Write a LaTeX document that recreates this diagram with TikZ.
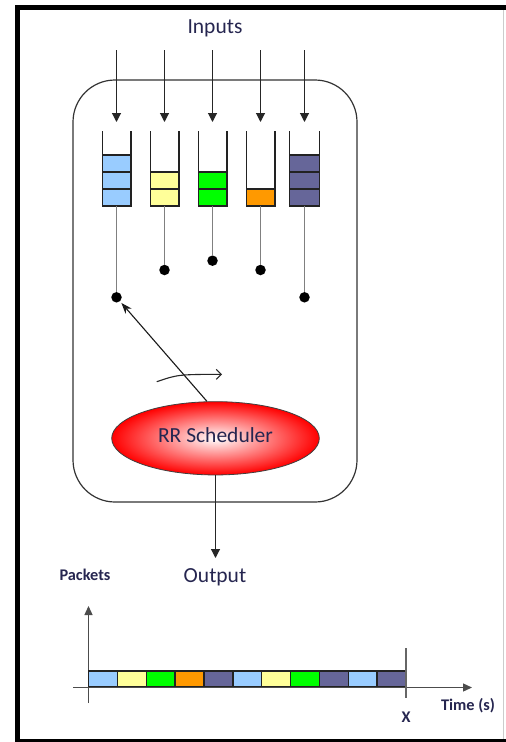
\documentclass[tikz,border=0pt]{standalone}
\usepackage{fontspec}
\setmainfont{Carlito}
\usetikzlibrary{arrows.meta,shapes.geometric}
\definecolor{qblue}{HTML}{99CCFF}
\definecolor{qyellow}{HTML}{FFFF99}
\definecolor{qgreen}{HTML}{00FF00}
\definecolor{qorange}{HTML}{FF9900}
\definecolor{qpurple}{HTML}{666699}
\definecolor{txt}{HTML}{262650}
\definecolor{qline}{HTML}{222222}
\definecolor{stem}{HTML}{808080}
\newcommand{\qbox}[5]{%
  \foreach \k in {1,...,#4} {
    \filldraw[fill=#5, draw=qline, line width=1.4pt]
      ({#2-#3}, {205.7-16.9*\k}) rectangle ({#2+#3}, {205.7-16.9*(\k-1)});
  }
  \draw[qline, line width=1.6pt] ({#2-#3},131) -- ({#2-#3},205.7) -- ({#2+#3},205.7) -- ({#2+#3},131);
  \coordinate (#1) at (#2,205.7);
}
\begin{document}
\begin{tikzpicture}[x=1pt,y=-1pt,
  bigtxt/.style={text=txt, font=\fontsize{21.5}{24}\selectfont, inner sep=0pt},
  smalltxt/.style={text=txt, font=\bfseries\fontsize{16.3}{18}\selectfont, inner sep=0pt},
  inarrow/.style={draw=black!85, line width=1.1pt, -{Triangle[length=9pt,width=9pt]}},
  stemline/.style={draw=stem, line width=1.8pt},
  dot/.style={circle, fill=black, inner sep=0pt, minimum size=10.5pt},
  ptr/.style={draw=black!90, line width=1.1pt, -{Stealth[length=11pt,width=8pt]}, shorten >=2pt},
  rot/.style={draw=black!85, line width=1.1pt, -{Straight Barb[length=5pt,width=10pt]}},
  axis/.style={draw=black!70, line width=1.3pt, -{Triangle[length=9pt,width=8pt]}},
  cell/.style={draw=qline, line width=1.4pt}
]
\useasboundingbox (0,0) rectangle (506,742);
\fill[white] (0,0) rectangle (506,742);
% frame
\draw[line width=5pt] (17.5,742) -- (17.5,7.5) -- (506,7.5);
\draw[black!20, line width=1pt] (503.5,10) -- (503.5,739);
\draw[line width=2.5pt] (17.5,740.5) -- (506,740.5);

% main box
\node[draw=black!80, line width=1.2pt, rounded corners=42pt, minimum width=284pt, minimum height=422pt, inner sep=0pt] (box) at (215,291) {};

% inputs
\node[bigtxt] (inputs) at (215,28) {Inputs};
\foreach \i/\x in {1/116.5, 2/164.5, 3/212.5, 4/260.5, 5/304.5} {
  \coordinate (s\i) at (\x,50);
  \coordinate (t\i) at (\x,122);
  \draw[inarrow] (s\i) -- (t\i);
}

% queues
\qbox{q1}{116.5}{14.2}{3}{qblue}
\qbox{q2}{164.5}{14.2}{2}{qyellow}
\qbox{q3}{212.5}{14.2}{2}{qgreen}
\qbox{q4}{260.5}{14.2}{1}{qorange}
\qbox{q5}{304.5}{15}{3}{qpurple}

% stems and dots
\node[dot] (d1) at (116.5,297.3) {};
\node[dot] (d2) at (164.5,270) {};
\node[dot] (d3) at (212.5,260.7) {};
\node[dot] (d4) at (260.5,270) {};
\node[dot] (d5) at (304.5,297.3) {};
\foreach \i in {1,...,5} { \draw[stemline] (q\i) -- (d\i); }

% scheduler
\node[ellipse, minimum width=207.6pt, minimum height=73.3pt, inner sep=0pt,
      inner color=white, outer color=red, draw=black!75, line width=0.8pt] (sched) at (215.5,438.3) {};
\node[bigtxt] (schedtxt) at (215.5,435.5) {RR Scheduler};
\draw[ptr] (sched.103) -- (d1);

% rotation arrow
\coordinate (ra) at (156.7,381.7);
\coordinate (rb) at (222,374.3);
\draw[rot] (ra) .. controls (178,374.5) .. (rb);

% output
\coordinate (outtip) at (215.5,558);
\draw[inarrow] (sched.south) -- (outtip);
\node[bigtxt] (output) at (215,577) {Output};

% chart
\node[smalltxt] (packets) at (85,575) {Packets};
\coordinate (yb) at (88.5,703);
\coordinate (yt) at (88.5,606);
\coordinate (xl) at (73.3,687.5);
\coordinate (xr) at (472,687.5);
\draw[axis] (yb) -- (yt);
\draw[axis] (xl) -- (xr);
\foreach \c [count=\n from 0] in {qblue,qyellow,qgreen,qorange,qpurple,qblue,qyellow,qgreen,qpurple,qblue,qpurple} {
  \filldraw[cell, fill=\c] ({88.5+28.86*\n},671) rectangle ({88.5+28.86*(\n+1)},686.7);
}
\coordinate (mt) at (406,648);
\coordinate (mb) at (406,698);
\draw[black!60, line width=1.2pt] (mt) -- (mb);
\node[smalltxt] (xlab) at (406,717) {X};
\node[smalltxt] (time) at (468,706) {Time (s)};
\end{tikzpicture}
\end{document}
